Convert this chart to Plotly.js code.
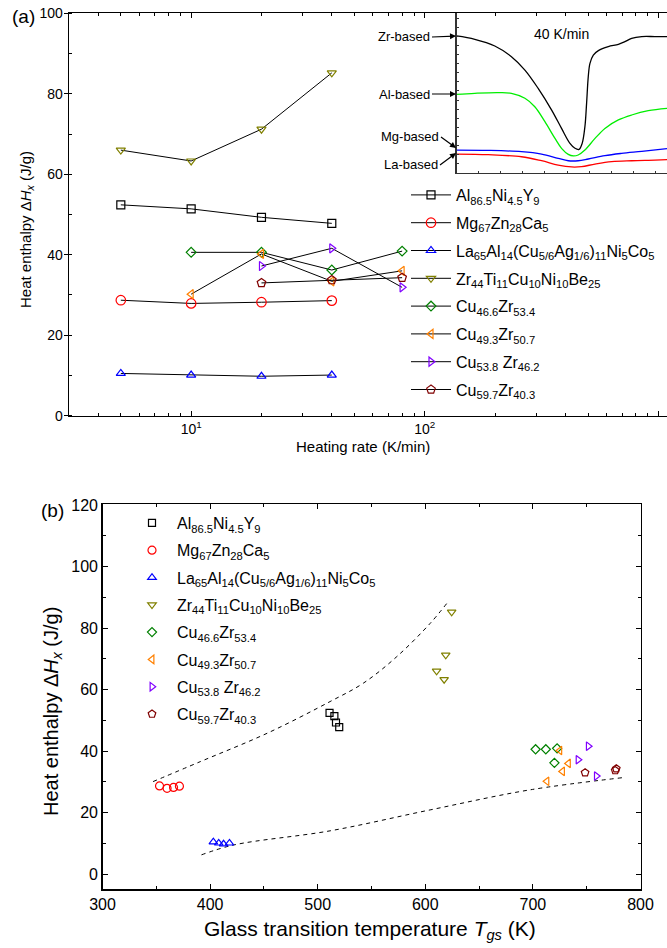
<!DOCTYPE html>
<html>
<head>
<meta charset="utf-8">
<script src="https://cdn.plot.ly/plotly-3.0.1.min.js"></script>
<style>html,body{margin:0;padding:0;background:#fff;}</style>
</head>
<body>
<div id="chart" style="width:667px;height:948px;"></div>
<script>
// ---------- Panel (a): heat enthalpy vs heating rate ----------
const alRate = [5, 10, 20, 40];
const alH = [52.4, 51.4, 49.3, 47.8];
const mgRate = [5, 10, 20, 40];
const mgH = [28.7, 27.9, 28.2, 28.6];
const laRate = [5, 10, 20, 40];
const laH = [10.5, 10.1, 9.8, 10.1];
const zrRate = [5, 10, 20, 40];
const zrH = [66.0, 63.3, 71.2, 85.2];
const cu466Rate = [10, 20, 40, 80];
const cu466H = [40.6, 40.6, 36.2, 40.9];
const cu493Rate = [10, 20, 40, 80];
const cu493H = [30.2, 40.2, 33.4, 36.0];
const cu538Rate = [20, 40, 80];
const cu538H = [37.2, 41.6, 31.9];
const cu597Rate = [20, 40, 80];
const cu597H = [33.0, 33.7, 34.3];

// ---------- Panel (b): glass transition temperature ----------
const alTg = [511, 515.5, 517, 520];
const mgTg = [353, 360, 366, 371.5];
const laTg = [403, 408, 412.5, 418];
const zrTg = [610.5, 617.5, 619, 624.5];
const cu466Tg = [702.5, 712, 720, 722.5];
const cu493Tg = [713, 725, 727.5, 733];
const cu538Tg = [742, 751.5, 759];
const cu597Tg = [748.5, 776.5, 777.5];

// dashed guide curves in (b)
const upperGuideT = [347, 391, 453, 511.5, 542.5, 573.5, 604.5, 620];
const upperGuideH = [30.1, 36.6, 45.8, 56.1, 62.1, 70.7, 81.5, 88.0];
const lowerGuideT = [392, 422, 511.5, 604.5, 697, 784];
const lowerGuideH = [6.3, 9.5, 14.1, 20.9, 27.4, 31.4];

// ---------- Inset: DSC curves at 40 K/min (arbitrary units) ----------
const zrCurveX = [0, 8.7, 18.2, 26.1, 32.5, 38.8, 45.2, 49.9, 53.9, 56.3, 58.2, 59.7, 61.0, 61.8, 62.6, 63.4, 65.0, 67.4, 72.1, 76.9, 80.0, 83.2, 88.0, 94.3, 100];
const zrCurveY = [85.8, 83.7, 79.5, 72.8, 64.4, 52.9, 39.3, 27.8, 18.4, 15.3, 14.6, 18.4, 28.9, 43.5, 60.3, 68.6, 73.8, 76.6, 79.1, 80.5, 82.2, 84.3, 85.4, 85.4, 85.4];
const alCurveX = [0, 8.7, 19.8, 26.1, 32.5, 37.2, 42.0, 46.8, 49.9, 53.1, 55.5, 57.8, 61.0, 65.8, 70.5, 76.9, 83.2, 91.1, 100];
const alCurveY = [49.2, 49.8, 50.2, 49.8, 46.7, 41.4, 32.0, 21.5, 15.3, 11.5, 10.5, 11.1, 14.2, 21.5, 27.8, 33.1, 36.2, 38.9, 40.4];
const mgCurveX = [0, 15.1, 30.9, 40.4, 48.3, 53.1, 57.8, 62.6, 70.5, 78.4, 88.0, 100];
const mgCurveY = [14.2, 14.0, 13.2, 11.7, 9.0, 7.5, 7.5, 8.6, 10.7, 12.1, 13.4, 15.1];
const laCurveX = [0, 15.1, 30.9, 40.4, 48.3, 54.7, 59.4, 65.8, 73.7, 83.2, 94.3, 100];
const laCurveY = [11.7, 11.3, 10.0, 7.5, 4.8, 3.6, 3.8, 5.4, 6.9, 7.5, 7.9, 8.2];

// ---------- labels ----------
const seriesNames = [
  'Al<sub>86.5</sub>Ni<sub>4.5</sub>Y<sub>9</sub>',
  'Mg<sub>67</sub>Zn<sub>28</sub>Ca<sub>5</sub>',
  'La<sub>65</sub>Al<sub>14</sub>(Cu<sub>5/6</sub>Ag<sub>1/6</sub>)<sub>11</sub>Ni<sub>5</sub>Co<sub>5</sub>',
  'Zr<sub>44</sub>Ti<sub>11</sub>Cu<sub>10</sub>Ni<sub>10</sub>Be<sub>25</sub>',
  'Cu<sub>46.6</sub>Zr<sub>53.4</sub>',
  'Cu<sub>49.3</sub>Zr<sub>50.7</sub>',
  'Cu<sub>53.8</sub> Zr<sub>46.2</sub>',
  'Cu<sub>59.7</sub>Zr<sub>40.3</sub>'
];
const rateTickVals = [10, 100, 1000];
const rateTickText = ['10<sup>1</sup>', '10<sup>2</sup>', '10<sup>3</sup>'];
const rateMinorTicks = [4, 5, 6, 7, 8, 9, 20, 30, 40, 50, 60, 70, 80, 90, 200, 300, 400, 500, 600, 700, 800, 900];
const insetLabels = ['Zr-based', 'Al-based', 'Mg-based', 'La-based'];

// ---------- styling ----------
const colors = ['#000000', '#ff0000', '#0000ff', '#808000', '#008000', '#ff8000', '#8000ff', '#800000'];
const symbols = ['square-open', 'circle-open', 'triangle-up-open', 'triangle-down-open', 'diamond-open', 'triangle-left-open', 'triangle-right-open', 'pentagon-open'];
const sizesA = [8, 9.5, 8, 8, 7.5, 8, 8, 9];
const sizesB = [7, 8, 7.5, 7.5, 7, 7.5, 7.5, 8];

const rates = [alRate, mgRate, laRate, zrRate, cu466Rate, cu493Rate, cu538Rate, cu597Rate];
const enth = [alH, mgH, laH, zrH, cu466H, cu493H, cu538H, cu597H];
const tgs = [alTg, mgTg, laTg, zrTg, cu466Tg, cu493Tg, cu538Tg, cu597Tg];

const traces = [];
for (let i = 0; i < 8; i++) {
  traces.push({
    x: rates[i], y: enth[i], xaxis: 'x', yaxis: 'y',
    mode: 'lines+markers', name: seriesNames[i],
    legend: 'legend', legendgroup: 'a' + i,
    line: {color: '#000', width: 1},
    marker: {symbol: symbols[i], size: sizesA[i], color: colors[i], line: {color: colors[i], width: 1.2}},
    cliponaxis: false
  });
}
const insetX = [zrCurveX, alCurveX, mgCurveX, laCurveX];
const insetY = [zrCurveY, alCurveY, mgCurveY, laCurveY];
const insetColors = ['#000000', '#00ee00', '#0000ff', '#ff0000'];
for (let k = 0; k < 4; k++) {
  traces.push({
    x: insetX[k], y: insetY[k], xaxis: 'x2', yaxis: 'y2', mode: 'lines',
    line: {color: insetColors[k], width: 1.3, shape: 'spline'}, showlegend: false, hoverinfo: 'skip'
  });
}
traces.push({x: upperGuideT, y: upperGuideH, xaxis: 'x3', yaxis: 'y3', mode: 'lines',
  line: {color: '#000', width: 1, dash: '4px,4px', shape: 'spline'}, showlegend: false});
traces.push({x: lowerGuideT, y: lowerGuideH, xaxis: 'x3', yaxis: 'y3', mode: 'lines',
  line: {color: '#000', width: 1, dash: '4px,4px', shape: 'spline'}, showlegend: false});
for (let i = 0; i < 8; i++) {
  traces.push({
    x: tgs[i], y: enth[i], xaxis: 'x3', yaxis: 'y3',
    mode: 'markers', name: seriesNames[i],
    legend: 'legend2', legendgroup: 'b' + i,
    marker: {symbol: symbols[i], size: sizesB[i], color: colors[i], line: {color: colors[i], width: 1.2}}
  });
}

const W = 667, H = 948;
const px = v => v / W;
const py = v => 1 - v / H;
const FONT = 'Liberation Sans, Arial, Helvetica, sans-serif';

const axisBase = {showgrid: false, zeroline: false, showline: true, linecolor: '#000', linewidth: 1.3,
  tickcolor: '#000', tickwidth: 1, ticks: 'inside', ticklen: 5};

function label(text, x, y, size, extra) {
  return Object.assign({text: text, xref: 'paper', yref: 'paper', x: px(x), y: py(y),
    xanchor: 'center', yanchor: 'middle', showarrow: false, font: {size: size}}, extra || {});
}
function arrowLabel(text, hx, hy, ax, ay) {
  return {text: text, xref: 'paper', yref: 'paper', x: px(hx), y: py(hy), ax: ax, ay: ay,
    xanchor: 'right', yanchor: 'middle', showarrow: true, arrowhead: 2, arrowsize: 1,
    arrowwidth: 1.2, arrowcolor: '#000', font: {size: 13}};
}

const layout = {
  width: W, height: H,
  margin: {l: 0, r: 0, t: 0, b: 0},
  paper_bgcolor: '#fff', plot_bgcolor: 'rgba(0,0,0,0)',
  font: {family: FONT, color: '#000'},
  showlegend: true,
  xaxis: Object.assign({}, axisBase, {
    type: 'log', domain: [px(69), 1], anchor: 'y',
    range: [Math.log10(3), 3.037],
    tickmode: 'array', tickvals: rateTickVals, ticktext: rateTickText,
    mirror: 'allticks', tickfont: {size: 14},
    minor: {tickmode: 'array', tickvals: rateMinorTicks, ticks: 'inside', ticklen: 3, tickcolor: '#000'}
  }),
  yaxis: Object.assign({}, axisBase, {
    domain: [py(415.7), py(13.3)], anchor: 'x', range: [0, 100], dtick: 20,
    ticks: 'outside', ticklen: 4, ticklabelstandoff: -2, tickfont: {size: 14},
    minor: {dtick: 10, ticks: 'inside', ticklen: 3, tickcolor: '#000'}
  }),
  xaxis2: {domain: [px(456.5), 1], anchor: 'y2', range: [0, 100], showgrid: false, zeroline: false,
    showline: true, linecolor: '#333', linewidth: 1.2, ticks: 'inside', ticklen: 2, tickcolor: '#333',
    dtick: 10.5, showticklabels: false},
  yaxis2: {domain: [py(172.7), py(13.3)], anchor: 'x2', range: [0, 100], showgrid: false, zeroline: false,
    showline: true, linecolor: '#333', linewidth: 1.2, ticks: 'inside', ticklen: 2, tickcolor: '#333',
    dtick: 5.7, showticklabels: false},
  xaxis3: Object.assign({}, axisBase, {
    domain: [px(102.5), px(640.5)], anchor: 'y3', range: [300, 800], dtick: 100,
    mirror: 'allticks', tickfont: {size: 16},
    minor: {dtick: 50, ticks: 'inside', ticklen: 3, tickcolor: '#000'}
  }),
  yaxis3: Object.assign({}, axisBase, {
    domain: [py(889.3), py(504.3)], anchor: 'x3', range: [-4.9, 120.2], dtick: 20,
    mirror: 'allticks', tickfont: {size: 16},
    minor: {dtick: 10, ticks: 'inside', ticklen: 3, tickcolor: '#000'}
  }),
  legend: {x: px(406), y: py(178), xanchor: 'left', yanchor: 'top', bgcolor: 'rgba(0,0,0,0)',
    font: {size: 16, family: FONT}, tracegroupgap: 4, itemwidth: 40},
  legend2: {x: px(127), y: py(506), xanchor: 'left', yanchor: 'top', bgcolor: 'rgba(0,0,0,0)',
    font: {size: 16, family: FONT}, tracegroupgap: 3.5, itemwidth: 40},
  annotations: [
    label('(a)', 24, 17, 19),
    label('(b)', 52, 510, 19),
    label('Heat enthalpy Δ<i>H</i><sub><i>x</i></sub> (J/g)', 26, 230, 15, {textangle: -90}),
    label('Heating rate (K/min)', 363, 446, 15),
    label('Heat enthalpy Δ<i>H</i><sub><i>x</i></sub> (J/g)', 52, 712, 20, {textangle: -90}),
    label('Glass transition temperature <i>T</i><sub><i>gs</i></sub> (K)', 370, 930, 21),
    label('40 K/min', 561, 34, 14),
    arrowLabel(insetLabels[0], 456, 36, -24, 1),
    arrowLabel(insetLabels[1], 456, 94, -24, 0),
    arrowLabel(insetLabels[2], 456, 148, -15, -11),
    arrowLabel(insetLabels[3], 456, 153, -16, 12)
  ]
};

Plotly.newPlot('chart', traces, layout, {displayModeBar: false, staticPlot: true});
</script>
</body>
</html>
